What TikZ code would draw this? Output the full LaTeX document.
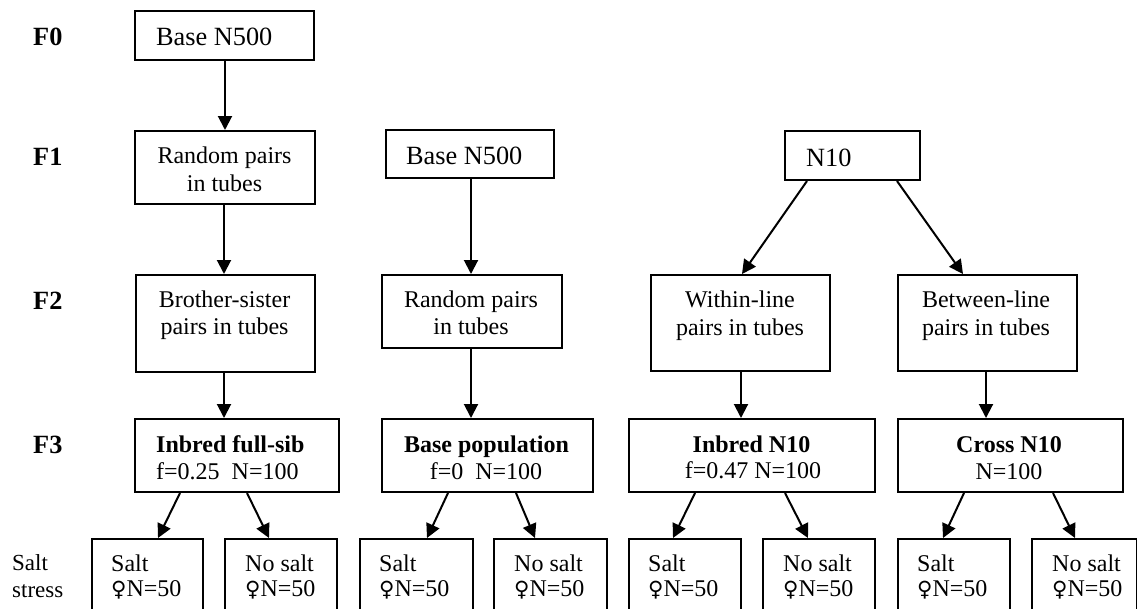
\documentclass[tikz,border=0pt]{standalone}
\usepackage{fontspec}
\setmainfont{Liberation Serif}
\newfontfamily\symf{DejaVu Sans}
\usetikzlibrary{arrows.meta}
\newcommand\msz{\fontsize{24}{27}\selectfont}
\newcommand\lsz{\fontsize{26.3}{30}\selectfont}
\newcommand\ssz{\fontsize{23}{27}\selectfont}
\newcommand\fem{{\symf\fontsize{21}{27}\selectfont ♀}}
\tikzset{
  bx/.style={draw, line width=2pt, inner sep=0pt, anchor=north west},
  arr/.style={-{Triangle[length=14pt,width=14pt]}, line width=2pt},
  tl/.style={inner sep=0pt, font=\msz, anchor=base west},
  tc/.style={inner sep=0pt, font=\msz, anchor=base},
  tb/.style={inner sep=0pt, font=\msz\bfseries, anchor=base},
  big/.style={inner sep=0pt, font=\lsz, anchor=base west},
  glab/.style={inner sep=0pt, font=\lsz\bfseries, anchor=base west},
  slab/.style={inner sep=0pt, font=\ssz, anchor=base west},
}
\begin{document}
\begin{tikzpicture}[x=1pt,y=-1pt]
\useasboundingbox (0,0) rectangle (1137,608);
\clip (0,0) rectangle (1137,608);
% generation labels
\node[glab] (lf0) at (33,45) {F0};
\node[glab] (lf1) at (33,165) {F1};
\node[glab] (lf2) at (33,309) {F2};
\node[glab] (lf3) at (33,453) {F3};
\node[slab] (ls1) at (12,570) {Salt};
\node[slab] (ls2) at (12,597) {stress};
% boxes
\node[bx, minimum width=179pt, minimum height=49pt] (f0) at (134,10) {};
\node[bx, minimum width=180pt, minimum height=73pt] (f1a) at (134,130) {};
\node[bx, minimum width=168pt, minimum height=48pt] (f1b) at (385,129) {};
\node[bx, minimum width=135pt, minimum height=49pt] (f1c) at (784,130) {};
\node[bx, minimum width=179pt, minimum height=97pt] (f2a) at (135,274) {};
\node[bx, minimum width=180pt, minimum height=73pt] (f2b) at (381,274) {};
\node[bx, minimum width=179pt, minimum height=96pt] (f2c) at (650,274) {};
\node[bx, minimum width=179pt, minimum height=96pt] (f2d) at (897,274) {};
\node[bx, minimum width=204pt, minimum height=73pt] (f3a) at (134,418) {};
\node[bx, minimum width=211pt, minimum height=73pt] (f3b) at (381,418) {};
\node[bx, minimum width=246pt, minimum height=73pt] (f3c) at (628,418) {};
\node[bx, minimum width=225pt, minimum height=73pt] (f3d) at (897,418) {};
\node[bx, minimum width=111pt, minimum height=90pt] (b1) at (91,538) {};
\node[bx, minimum width=112pt, minimum height=90pt] (b2) at (224,538) {};
\node[bx, minimum width=113pt, minimum height=90pt] (b3) at (359,538) {};
\node[bx, minimum width=113pt, minimum height=90pt] (b4) at (493,538) {};
\node[bx, minimum width=112pt, minimum height=90pt] (b5) at (628,538) {};
\node[bx, minimum width=112pt, minimum height=90pt] (b6) at (762,538) {};
\node[bx, minimum width=112pt, minimum height=90pt] (b7) at (897,538) {};
\node[bx, minimum width=105pt, minimum height=90pt] (b8) at (1031,538) {};
% texts
\node[big] (t0) at (156,45) {Base N500};
\node[tc] (t1a1) at (224.5,163) {Random pairs};
\node[tc] (t1a2) at (224.5,191) {in tubes};
\node[big] (t1b) at (406,164) {Base N500};
\node[big] (t1c) at (806,166) {N10};
\node[tc] (t2a1) at (224.5,307) {Brother-sister};
\node[tc] (t2a2) at (224.5,334) {pairs in tubes};
\node[tc] (t2b1) at (471,307) {Random pairs};
\node[tc] (t2b2) at (471,334) {in tubes};
\node[tc] (t2c1) at (740,307) {Within-line};
\node[tc] (t2c2) at (740,335) {pairs in tubes};
\node[tc] (t2d1) at (986,307) {Between-line};
\node[tc] (t2d2) at (986,335) {pairs in tubes};
\node[tb, anchor=base west] (t3a1) at (156,452) {Inbred full-sib};
\node[tl] (t3a2) at (156,479) {f=0.25\ \ N=100};
\node[tb] (t3b1) at (486.5,452) {Base population};
\node[tc] (t3b2) at (486,479) {f=0\ \ N=100};
\node[tb] (t3c1) at (751.5,452) {Inbred N10};
\node[tc] (t3c2) at (753,478) {f=0.47 N=100};
\node[tb] (t3d1) at (1009,452) {Cross N10};
\node[tc] (t3d2) at (1009,479) {N=100};
\node[tl] (s1) at (111,571) {Salt};
\node[tl] (n1) at (111,596) {\fem N=50};
\node[tl] (s2) at (245,571) {No salt};
\node[tl] (n2) at (245,596) {\fem N=50};
\node[tl] (s3) at (379,571) {Salt};
\node[tl] (n3) at (379,596) {\fem N=50};
\node[tl] (s4) at (514,571) {No salt};
\node[tl] (n4) at (514,596) {\fem N=50};
\node[tl] (s5) at (648,571) {Salt};
\node[tl] (n5) at (648,596) {\fem N=50};
\node[tl] (s6) at (783,571) {No salt};
\node[tl] (n6) at (783,596) {\fem N=50};
\node[tl] (s7) at (917,571) {Salt};
\node[tl] (n7) at (917,596) {\fem N=50};
\node[tl] (s8) at (1052,571) {No salt};
\node[tl] (n8) at (1052,596) {\fem N=50};
% connectors
\draw[arr] ([xshift=91pt]f0.south west) -- ([xshift=91pt]f1a.north west);
\draw[arr] ([xshift=90pt]f1a.south west) -- ([xshift=89pt]f2a.north west);
\draw[arr] ([xshift=86pt]f1b.south west) -- ([xshift=90pt]f2b.north west);
\draw[arr] ([xshift=23pt]f1c.south west) -- ([xshift=92pt]f2c.north west);
\draw[arr] ([xshift=113pt]f1c.south west) -- ([xshift=66pt]f2d.north west);
\draw[arr] ([xshift=89pt]f2a.south west) -- ([xshift=90pt]f3a.north west);
\draw[arr] ([xshift=90pt]f2b.south west) -- ([xshift=90pt]f3b.north west);
\draw[arr] ([xshift=91pt]f2c.south west) -- ([xshift=113pt]f3c.north west);
\draw[arr] ([xshift=89pt]f2d.south west) -- ([xshift=89pt]f3d.north west);
\draw[arr] ([xshift=46pt]f3a.south west) -- ([xshift=67pt]b1.north west);
\draw[arr] ([xshift=113pt]f3a.south west) -- ([xshift=45pt]b2.north west);
\draw[arr] ([xshift=67pt]f3b.south west) -- ([xshift=68pt]b3.north west);
\draw[arr] ([xshift=135pt]f3b.south west) -- ([xshift=42pt]b4.north west);
\draw[arr] ([xshift=67pt]f3c.south west) -- ([xshift=45pt]b5.north west);
\draw[arr] ([xshift=157pt]f3c.south west) -- ([xshift=46pt]b6.north west);
\draw[arr] ([xshift=67pt]f3d.south west) -- ([xshift=46pt]b7.north west);
\draw[arr] ([xshift=156pt]f3d.south west) -- ([xshift=44pt]b8.north west);
\end{tikzpicture}
\end{document}
